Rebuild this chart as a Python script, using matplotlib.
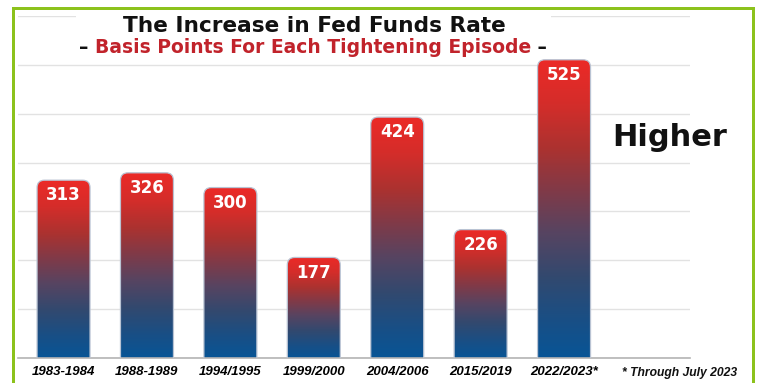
import numpy as np
import matplotlib
matplotlib.use("Agg")
import matplotlib.pyplot as plt
from matplotlib.patches import FancyBboxPatch, Rectangle
from matplotlib.colors import LinearSegmentedColormap

# Tightening episodes and the total increase in basis points
episodes = ["1983-1984", "1988-1989", "1994/1995", "1999/2000",
            "2004/2006", "2015/2019", "2022/2023*"]
basis_points = [313, 326, 300, 177, 424, 226, 525]

W, H, DPI = 758, 383, 100
fig = plt.figure(figsize=(W / DPI, H / DPI), dpi=DPI)
fig.patch.set_facecolor("white")

HEAVY = "DejaVu Sans"
PLAIN = "Liberation Sans"

def fx(px):
    return px / W

def fy(py):
    return 1 - py / H

# plot area placed in pixel terms
ax_left, ax_right, ax_top, ax_bottom = 18, 690, 16, 358
ax = fig.add_axes([fx(ax_left), fy(ax_bottom), fx(ax_right - ax_left),
                   (ax_bottom - ax_top) / H])
ax.set_xlim(-0.546, 7.51)
ax.set_ylim(0, 602)
ax.set_facecolor("white")

# light horizontal guide lines
ax.set_yticks(np.arange(0, 603, 86))
ax.yaxis.grid(True, color="#e2e2e2", linewidth=1.0)
ax.set_axisbelow(True)
ax.tick_params(axis="y", left=False, labelleft=False)
for side in ("left", "right", "top"):
    ax.spines[side].set_visible(False)
ax.spines["bottom"].set_color("#b4b4b4")
ax.spines["bottom"].set_linewidth(1.2)

x = np.arange(len(episodes))
bar_w = 0.635
ax.set_xticks(x)
ax.set_xticklabels(episodes, fontsize=9.5, fontweight="bold", style="italic",
                   family=PLAIN)
ax.tick_params(axis="x", length=0, pad=6)

# red-to-blue vertical gradient used on every bar
cmap = LinearSegmentedColormap.from_list("fedgrad", [
    (0.00, "#085596"),
    (0.12, "#184f86"),
    (0.27, "#32496f"),
    (0.42, "#574461"),
    (0.56, "#803a48"),
    (0.70, "#ab3230"),
    (0.85, "#d42d2a"),
    (1.00, "#ec2a27"),
])
grad = np.linspace(0, 1, 256).reshape(-1, 1)

bars = ax.bar(x, basis_points, width=bar_w, color="none", edgecolor="none")

# rounded top corners: radius given in pixels, converted to data units
fig.canvas.draw()
px_per_x = (ax_right - ax_left) / (ax.get_xlim()[1] - ax.get_xlim()[0])
px_per_y = (ax_bottom - ax_top) / (ax.get_ylim()[1] - ax.get_ylim()[0])
r_px = 7.5
rx = r_px / px_per_x
ry = r_px / px_per_y

for rect, val in zip(bars, basis_points):
    x0 = rect.get_x()
    w = rect.get_width()
    h = rect.get_height()
    shape = FancyBboxPatch((x0, -2 * ry), w, h + 2 * ry,
                           boxstyle=f"round,pad=0,rounding_size={rx}",
                           mutation_aspect=ry / rx,
                           facecolor="none", edgecolor="#b9c3d3",
                           linewidth=0.9, zorder=3)
    ax.add_patch(shape)
    img = ax.imshow(grad, cmap=cmap, origin="lower", aspect="auto",
                    extent=[x0, x0 + w, 0, h], interpolation="bicubic",
                    zorder=2)
    img.set_clip_path(shape)
    ax.annotate(f"{val}", xy=(rect.get_x() + w / 2, h), xytext=(0, -4.5),
                textcoords="offset points", ha="center", va="top",
                color="white", fontsize=12, fontweight="bold",
                family=HEAVY, zorder=4)

ax.set_xlim(-0.546, 7.51)
ax.set_ylim(0, 602)

# white panel behind the headline
fig.patches.append(Rectangle((fx(76), fy(58)), fx(551 - 76), (58 - 11) / H,
                             transform=fig.transFigure, facecolor="white",
                             edgecolor="none", zorder=1))

fig.text(fx(314), fy(26.5), "The Increase in Fed Funds Rate", ha="center",
         va="center", fontsize=15.6, fontweight="bold", color="#111111",
         family=HEAVY, zorder=5)

sub = fig.text(fx(313), fy(47.5), "Basis Points For Each Tightening Episode",
               ha="center", va="center", fontsize=13.5, fontweight="bold",
               color="#c1232b", family=HEAVY, zorder=5)
fig.canvas.draw()
bb = sub.get_window_extent()
fig.text(bb.x0 / W, fy(47.5), "\u2013 ", ha="right", va="center",
         fontsize=13.5, fontweight="bold", color="#111111", family=HEAVY,
         zorder=5)
fig.text(bb.x1 / W, fy(47.5), " \u2013", ha="left", va="center",
         fontsize=13.5, fontweight="bold", color="#111111", family=HEAVY,
         zorder=5)

fig.text(fx(612), fy(138), "Higher", ha="left", va="center", fontsize=22,
         fontweight="bold", color="#111111", family=HEAVY)

fig.text(fx(622), fy(373), "* Through July 2023", ha="left", va="center",
         fontsize=8.7, fontweight="bold", style="italic", color="#111111",
         family=PLAIN)

# lime frame on the top, left and right
frame_kw = dict(transform=fig.transFigure, facecolor="#8cc21c",
                edgecolor="none", zorder=6)
fig.patches.append(Rectangle((fx(12), 0), fx(3), fy(7), **frame_kw))
fig.patches.append(Rectangle((fx(12), fy(10)), fx(755 - 12), 3 / H, **frame_kw))
fig.patches.append(Rectangle((fx(752), 0), fx(3), fy(7), **frame_kw))

fig.savefig("out.png", dpi=DPI)
